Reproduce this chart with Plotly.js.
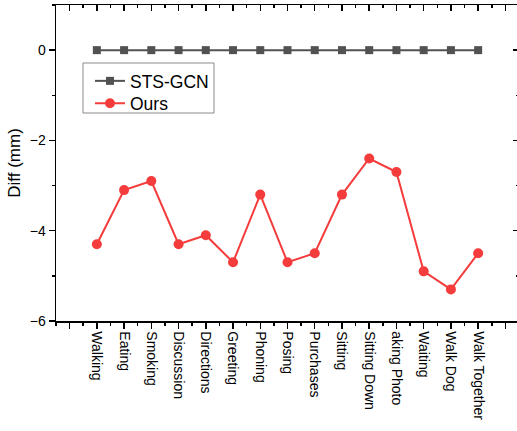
<!DOCTYPE html>
<html>
<head>
<meta charset="utf-8">
<script src="https://cdn.plot.ly/plotly-3.0.1.min.js"></script>
<style>
html,body{margin:0;padding:0;overflow:hidden;background:#fff;}
#chart{width:522px;height:431px;}
</style>
</head>
<body>
<div id="chart"></div>
<script>
const categories = ["Walking","Eating","Smoking","Discussion","Directions","Greeting","Phoning","Posing","Purchases","Sitting","Sitting Down","aking Photo","Waiting","Walk Dog","Walk Together"];
const stsGcn = [0,0,0,0,0,0,0,0,0,0,0,0,0,0,0];
const ours = [-4.3,-3.1,-2.9,-4.3,-4.1,-4.7,-3.2,-4.7,-4.5,-3.2,-2.4,-2.7,-4.9,-5.3,-4.5];
const yTicks = [-6,-4,-2,0];

const idx = categories.map((_, i) => i);
const majorVals = [-1].concat(idx, [categories.length]);
const majorText = [''].concat(categories, ['']);
const font = "Liberation Sans, Arial, sans-serif";

const traces = [
  {x: idx, y: stsGcn, name: 'STS-GCN', mode: 'lines+markers', legend: 'legend',
   line: {color: '#525252', width: 2}, marker: {symbol: 'square', size: 8, color: '#525252'}},
  {x: idx, y: ours, name: 'Ours', mode: 'lines+markers', legend: 'legend2',
   line: {color: '#f53c3c', width: 2}, marker: {symbol: 'circle', size: 10, color: '#f53c3c'}},
  {x: idx, y: stsGcn, xaxis: 'x2', yaxis: 'y2', mode: 'lines', opacity: 0,
   showlegend: false, hoverinfo: 'skip'}
];

const xr = [-1.5, categories.length + 0.5];
const yr = [-6, 1];
const legFont = {family: font, size: 17.5, color: '#000'};
const legBase = {xanchor: 'left', yanchor: 'top', borderwidth: 0, bgcolor: 'rgba(0,0,0,0)', font: legFont, itemwidth: 30};

const layout = {
  width: 522, height: 431,
  margin: {l: 56, r: 3, t: 5, b: 110},
  paper_bgcolor: '#fff', plot_bgcolor: '#fff',
  font: {family: font, color: '#000', size: 14},
  showlegend: true,
  legend: Object.assign({x: 0.0734, y: 0.8165}, legBase),
  legend2: Object.assign({x: 0.0734, y: 0.7456}, legBase),
  shapes: [{type: 'rect', xref: 'paper', yref: 'paper', x0: 0.0583, x1: 0.3413, y0: 0.6582, y1: 0.8165,
    line: {color: '#8a8a8a', width: 1}, fillcolor: 'rgba(0,0,0,0)', layer: 'above'}],
  xaxis: {range: xr, tickmode: 'array', tickvals: majorVals, ticktext: majorText,
    tickangle: 90, ticks: 'outside', ticklen: 6, tickwidth: 1.5, tickcolor: '#000',
    showline: true, linecolor: '#000', linewidth: 1.5, showgrid: false, zeroline: false,
    tickfont: {family: font, size: 14},
    minor: {tickmode: 'linear', tick0: 0.5, dtick: 1, ticks: 'outside', ticklen: 3, tickwidth: 1.5, tickcolor: '#000', showgrid: false}},
  xaxis2: {range: xr, overlaying: 'x', side: 'top', anchor: 'y', tickmode: 'array', tickvals: majorVals,
    ticktext: majorVals.map(() => ''), showticklabels: false,
    ticks: 'inside', ticklen: 6, tickwidth: 1.5, tickcolor: '#000',
    showline: true, linecolor: '#000', linewidth: 1.5, showgrid: false, zeroline: false,
    minor: {tickmode: 'linear', tick0: 0.5, dtick: 1, ticks: 'inside', ticklen: 3, tickwidth: 1.5, tickcolor: '#000', showgrid: false}},
  yaxis: {range: yr, tickmode: 'array', tickvals: yTicks, ticks: 'outside', ticklen: 6, tickwidth: 1.5, tickcolor: '#000',
    showline: true, linecolor: '#000', linewidth: 1.5, showgrid: false, zeroline: false,
    tickfont: {family: font, size: 14},
    title: {text: 'Diff (mm)', font: {family: font, size: 17}, standoff: 5},
    minor: {tickmode: 'linear', tick0: 1, dtick: 1, ticks: 'outside', ticklen: 3, tickwidth: 1.5, tickcolor: '#000', showgrid: false}},
  yaxis2: {range: yr, overlaying: 'y', side: 'right', anchor: 'x', tickmode: 'array', tickvals: yTicks,
    showticklabels: false, ticks: 'inside', ticklen: 6, tickwidth: 1.5, tickcolor: '#000',
    showline: true, linecolor: '#000', linewidth: 1.5, showgrid: false, zeroline: false,
    minor: {tickmode: 'linear', tick0: 1, dtick: 1, ticks: 'inside', ticklen: 3, tickwidth: 1.5, tickcolor: '#000', showgrid: false}}
};

Plotly.newPlot('chart', traces, layout, {displayModeBar: false, staticPlot: true});
</script>
</body>
</html>
